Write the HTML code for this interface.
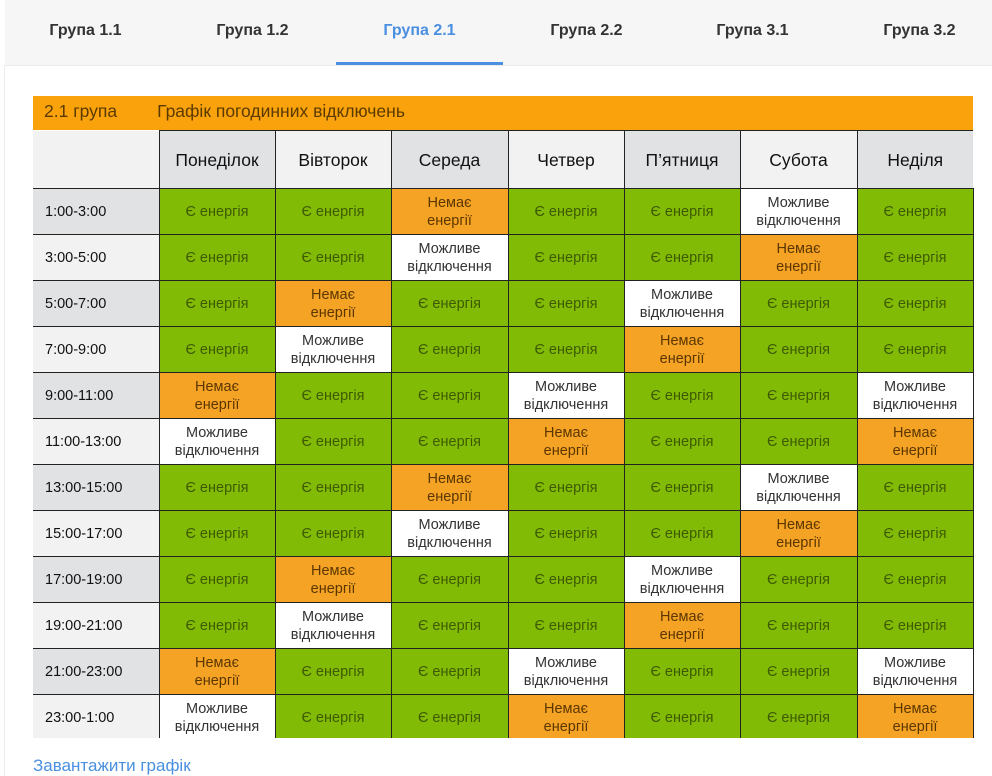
<!DOCTYPE html>
<html><head><meta charset="utf-8"><style>
body{margin:0;width:992px;height:776px;overflow:hidden;background:#fff;font-family:"Liberation Sans","DejaVu Sans",sans-serif;position:relative}
.tabs{position:absolute;left:5px;top:0;width:987px;height:65px;background:#f6f6f6;border-bottom:1px solid #ececec}
.tab{position:absolute;top:22px;font-size:16px;color:#333;font-weight:bold;width:167px;text-align:center}
.tab.a{color:#4a8fe0}
.ul{position:absolute;left:336px;top:62px;width:167px;height:3px;background:#4a8fe0}
.side{position:absolute;left:4px;top:65px;width:1px;height:711px;background:#ececec}
.ttl{position:absolute;left:33px;top:96px;width:940px;height:34px;background:#f9a20c;color:#5a3a00;font-size:17.5px;line-height:30px}
table{position:absolute;left:33px;top:130px;border-collapse:collapse;table-layout:fixed;width:940px}
td{border:1px solid #222;text-align:center;font-size:14.5px;line-height:18px;padding:0;overflow:hidden}
tr.h td{height:57px;font-size:17.5px;color:#111}
tr.r td{height:45px}
td.t{text-align:left;padding-left:12px;font-size:14.5px;color:#111;border-left:none}
.d{background:#e1e2e4}.l{background:#f2f2f2}
.G{background:#82bb06;color:#3d5a00}
.N{background:#f5a325;color:#5b3600}
.M{background:#fff;color:#333}
.lnk{position:absolute;left:33px;top:756px;color:#4a8fe0;font-size:17px}
</style></head><body>
<div class="tabs">
<div class="tab" style="left:-3px">Група 1.1</div>
<div class="tab" style="left:164px">Група 1.2</div>
<div class="tab a" style="left:331px">Група 2.1</div>
<div class="tab" style="left:498px">Група 2.2</div>
<div class="tab" style="left:664px">Група 3.1</div>
<div class="tab" style="left:831px">Група 3.2</div>
</div>
<div class="ul"></div><div class="side"></div>
<div class="ttl"><span style="margin-left:11px">2.1 група</span><span style="margin-left:40px">Графік погодинних відключень</span></div>
<table>
<colgroup><col style="width:126px"><col style="width:116px"><col style="width:116px"><col style="width:117px"><col style="width:116px"><col style="width:116px"><col style="width:117px"><col style="width:116px"></colgroup>
<tr class="h"><td class="l" style="border-left:none;border-top:none"></td><td class="d">Понеділок</td><td class="l">Вівторок</td><td class="d">Середа</td><td class="l">Четвер</td><td class="d">П’ятниця</td><td class="l">Субота</td><td class="d" style="border-right:none">Неділя</td></tr>
<tr class="r"><td class="t d">1:00-3:00</td><td class="G">Є енергія</td><td class="G">Є енергія</td><td class="N">Немає<br>енергії</td><td class="G">Є енергія</td><td class="G">Є енергія</td><td class="M">Можливе<br>відключення</td><td class="G">Є енергія</td></tr>
<tr class="r"><td class="t l">3:00-5:00</td><td class="G">Є енергія</td><td class="G">Є енергія</td><td class="M">Можливе<br>відключення</td><td class="G">Є енергія</td><td class="G">Є енергія</td><td class="N">Немає<br>енергії</td><td class="G">Є енергія</td></tr>
<tr class="r"><td class="t d">5:00-7:00</td><td class="G">Є енергія</td><td class="N">Немає<br>енергії</td><td class="G">Є енергія</td><td class="G">Є енергія</td><td class="M">Можливе<br>відключення</td><td class="G">Є енергія</td><td class="G">Є енергія</td></tr>
<tr class="r"><td class="t l">7:00-9:00</td><td class="G">Є енергія</td><td class="M">Можливе<br>відключення</td><td class="G">Є енергія</td><td class="G">Є енергія</td><td class="N">Немає<br>енергії</td><td class="G">Є енергія</td><td class="G">Є енергія</td></tr>
<tr class="r"><td class="t d">9:00-11:00</td><td class="N">Немає<br>енергії</td><td class="G">Є енергія</td><td class="G">Є енергія</td><td class="M">Можливе<br>відключення</td><td class="G">Є енергія</td><td class="G">Є енергія</td><td class="M">Можливе<br>відключення</td></tr>
<tr class="r"><td class="t l">11:00-13:00</td><td class="M">Можливе<br>відключення</td><td class="G">Є енергія</td><td class="G">Є енергія</td><td class="N">Немає<br>енергії</td><td class="G">Є енергія</td><td class="G">Є енергія</td><td class="N">Немає<br>енергії</td></tr>
<tr class="r"><td class="t d">13:00-15:00</td><td class="G">Є енергія</td><td class="G">Є енергія</td><td class="N">Немає<br>енергії</td><td class="G">Є енергія</td><td class="G">Є енергія</td><td class="M">Можливе<br>відключення</td><td class="G">Є енергія</td></tr>
<tr class="r"><td class="t l">15:00-17:00</td><td class="G">Є енергія</td><td class="G">Є енергія</td><td class="M">Можливе<br>відключення</td><td class="G">Є енергія</td><td class="G">Є енергія</td><td class="N">Немає<br>енергії</td><td class="G">Є енергія</td></tr>
<tr class="r"><td class="t d">17:00-19:00</td><td class="G">Є енергія</td><td class="N">Немає<br>енергії</td><td class="G">Є енергія</td><td class="G">Є енергія</td><td class="M">Можливе<br>відключення</td><td class="G">Є енергія</td><td class="G">Є енергія</td></tr>
<tr class="r"><td class="t l">19:00-21:00</td><td class="G">Є енергія</td><td class="M">Можливе<br>відключення</td><td class="G">Є енергія</td><td class="G">Є енергія</td><td class="N">Немає<br>енергії</td><td class="G">Є енергія</td><td class="G">Є енергія</td></tr>
<tr class="r"><td class="t d">21:00-23:00</td><td class="N">Немає<br>енергії</td><td class="G">Є енергія</td><td class="G">Є енергія</td><td class="M">Можливе<br>відключення</td><td class="G">Є енергія</td><td class="G">Є енергія</td><td class="M">Можливе<br>відключення</td></tr>
<tr class="r"><td class="t l" style="border-bottom:none">23:00-1:00</td><td class="M" style="border-bottom:none">Можливе<br>відключення</td><td class="G">Є енергія</td><td class="G">Є енергія</td><td class="N">Немає<br>енергії</td><td class="G">Є енергія</td><td class="G">Є енергія</td><td class="N">Немає<br>енергії</td></tr>
</table>
<div style="position:absolute;left:0;top:738px;width:992px;height:38px;background:#fff"></div>
<div class="side" style="top:738px;height:38px"></div>
<div class="lnk">Завантажити графік</div>
</body></html>
